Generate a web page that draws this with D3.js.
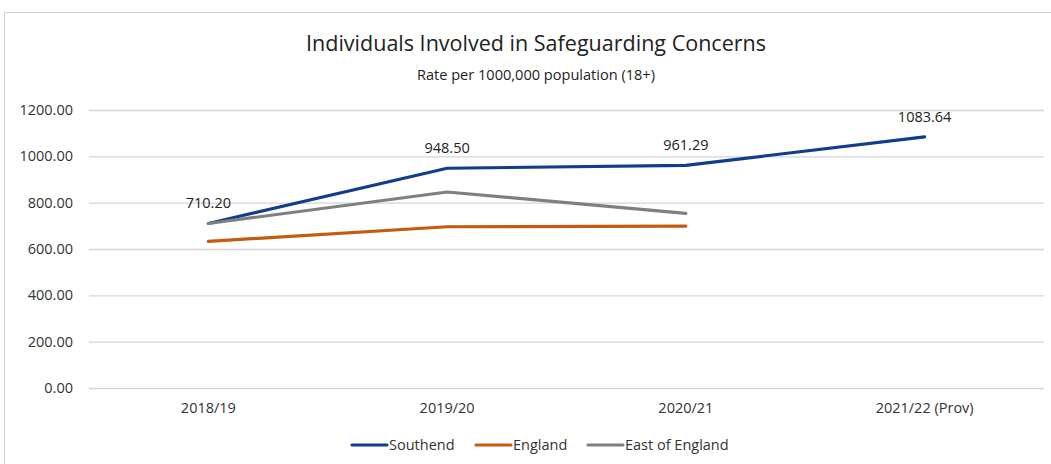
<!DOCTYPE html>
<html><head><meta charset="utf-8">
<script src="https://cdn.jsdelivr.net/npm/d3@7"></script>
<style>body{margin:0;background:#fff}svg{display:block;font-family:"Open Sans","Liberation Sans",sans-serif}</style>
</head><body><svg id="c" width="1051" height="464"></svg>
<script>
const categories = ["2018/19","2019/20","2020/21","2021/22 (Prov)"];
const southend = [710.20, 948.50, 961.29, 1083.64];
const england = [633, 696, 699, null];
const eastOfEngland = [710, 846, 754, null];
const yTicks = [0,200,400,600,800,1000,1200];
const seriesNames = ["Southend","England","East of England"];
const seriesColors = ["#123C8C","#C55A11","#7F7F7F"];

const svg = d3.select("#c");
svg.append("rect").attr("x",4.5).attr("y",12.5).attr("width",1060).attr("height",470)
  .attr("fill","#fff").attr("stroke","#d0d0d0");

const x = d3.scaleBand().domain(categories).range([89,1044]);
const y = d3.scaleLinear().domain([0,1200]).range([388,110]);

svg.append("text").attr("x",536).attr("y",51).attr("text-anchor","middle")
  .attr("font-size",21.5).attr("fill","#222").attr("textLength",460).attr("lengthAdjust","spacingAndGlyphs")
  .text("Individuals Involved in Safeguarding Concerns");
svg.append("text").attr("x",536).attr("y",80).attr("text-anchor","middle")
  .attr("font-size",14).attr("fill","#222").attr("textLength",238).attr("lengthAdjust","spacingAndGlyphs")
  .text("Rate per 1000,000 population (18+)");

const ya = svg.append("g").attr("transform","translate(89,0)")
  .call(d3.axisLeft(y).tickValues(yTicks).tickSize(-955).tickFormat(d3.format(".2f")).tickPadding(16));
ya.select(".domain").remove();
ya.selectAll("line").attr("stroke","#d4d4d4").attr("stroke-width",1.3);
ya.selectAll("text").attr("font-size",14.5).attr("fill","#333").attr("font-family","Open Sans, sans-serif");

const xa = svg.append("g").attr("transform","translate(0,388)")
  .call(d3.axisBottom(x).tickSize(0).tickPadding(15));
xa.select(".domain").remove();
xa.selectAll("text").attr("font-size",14.5).attr("fill","#333").attr("font-family","Open Sans, sans-serif");

const cx = c => x(c) + x.bandwidth()/2;
const line = d3.line().defined(d=>d.v!=null).x(d=>cx(d.c)).y(d=>y(d.v));
const all = [southend, england, eastOfEngland];
const order = [1,0,2];
order.forEach(i=>{
  svg.append("path").datum(categories.map((c,j)=>({c, v: all[i][j]})))
    .attr("d", line).attr("fill","none").attr("stroke", seriesColors[i])
    .attr("stroke-width",3.2).attr("stroke-linecap","round").attr("stroke-linejoin","round");
});

svg.selectAll(".lbl").data(categories).enter().append("text")
  .attr("x", c=>cx(c)).attr("y",(c,j)=>y(southend[j])-15)
  .attr("text-anchor","middle").attr("font-size",14.5).attr("fill","#222")
  .text((c,j)=>southend[j].toFixed(2));

const legX = [352, 476, 588];
seriesNames.forEach((n,i)=>{
  svg.append("line").attr("x1",legX[i]).attr("x2",legX[i]+35).attr("y1",445).attr("y2",445)
    .attr("stroke",seriesColors[i]).attr("stroke-width",3.2).attr("stroke-linecap","round");
  svg.append("text").attr("x",legX[i]+37).attr("y",450).attr("font-size",14.5).attr("fill","#333").text(n);
});
</script></body></html>
